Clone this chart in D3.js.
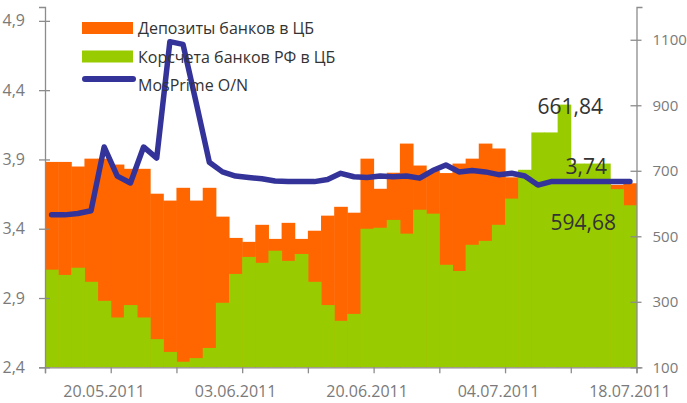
<!DOCTYPE html>
<html>
<head>
<meta charset="utf-8">
<script src="https://cdn.jsdelivr.net/npm/d3@7"></script>
<style>
  body { margin: 0; background: #fff; }
  #chart { width: 687px; height: 403px; }
</style>
</head>
<body>
<div id="chart"></div>
<script>
// trading days 16.05.2011 - 18.07.2011
const dates = [
  "16.05.2011","17.05.2011","18.05.2011","19.05.2011","20.05.2011",
  "23.05.2011","24.05.2011","25.05.2011","26.05.2011","27.05.2011",
  "30.05.2011","31.05.2011","01.06.2011","02.06.2011","03.06.2011",
  "06.06.2011","07.06.2011","08.06.2011","09.06.2011","10.06.2011",
  "14.06.2011","15.06.2011","16.06.2011","17.06.2011","20.06.2011",
  "21.06.2011","22.06.2011","23.06.2011","24.06.2011","27.06.2011",
  "28.06.2011","29.06.2011","30.06.2011","01.07.2011","04.07.2011",
  "05.07.2011","06.07.2011","07.07.2011","08.07.2011","11.07.2011",
  "12.07.2011","13.07.2011","14.07.2011","15.07.2011","18.07.2011"
];
// Депозиты банков в ЦБ, млрд руб (right axis)
const deposits = [
  727, 727, 713, 737, 737, 719, 706, 706, 630, 609,
  648, 609, 648, 560, 495, 483, 535, 492, 541, 492,
  517, 563, 590, 572, 737, 645, 694, 783, 716, 700,
  693, 722, 737, 783, 768, 680, 700, 700, 690, 690,
  680, 680, 670, 657, 661.84
];
// Корсчета банков РФ в ЦБ, млрд руб (right axis)
const corrAccounts = [
  398, 382, 404, 361, 303, 252, 290, 252, 186, 147,
  117, 128, 159, 297, 385, 437, 419, 456, 425, 446,
  361, 290, 242, 263, 523, 526, 550, 508, 581, 569,
  413, 394, 474, 486, 535, 615, 703, 817, 817, 902,
  722, 722, 722, 644, 594.68
];
// MosPrime O/N, % (left axis)
const mosprime = [
  3.50, 3.50, 3.51, 3.53, 3.99, 3.78, 3.73, 3.99, 3.91, 4.75,
  4.73, 4.31, 3.88, 3.81, 3.78, 3.77, 3.76, 3.745, 3.74, 3.74,
  3.74, 3.755, 3.80, 3.775, 3.77, 3.78, 3.775, 3.78, 3.765, 3.82,
  3.86, 3.81, 3.82, 3.81, 3.79, 3.80, 3.78, 3.715, 3.74, 3.74,
  3.74, 3.74, 3.74, 3.74, 3.74
];
const xLabels = ["20.05.2011", "03.06.2011", "20.06.2011", "04.07.2011", "18.07.2011"];
const leftTicks = [2.4, 2.9, 3.4, 3.9, 4.4, 4.9];
const rightTicks = [100, 300, 500, 700, 900, 1100];
const seriesNames = ["Депозиты банков в ЦБ", "Корсчета банков РФ в ЦБ", "MosPrime O/N"];

const colOrange = "#ff6600", colGreen = "#99cc00", colBlue = "#333399";
const axisCol = "#8c8c8c", tickTextCol = "#7a7a7a", textCol = "#333333";
const font = "'Open Sans', 'Noto Sans', sans-serif";

const container = d3.select("#chart");
const width = 687, height = 403;
const svg = container.append("svg").attr("width", width).attr("height", height)
  .style("font-family", font);

const margin = { left: 45, right: 50.5, top: 7, bottom: 35.7 };
const x0 = margin.left, x1 = width - margin.right;
const yTop = margin.top, yBot = height - margin.bottom;

const x = d3.scaleBand().domain(dates).range([x0, x1]).padding(0);
const xIdx = d3.scaleLinear().domain([0, dates.length]).range([x0, x1]);
const yL = d3.scaleLinear().domain([2.4, 5.0]).range([yBot, yTop]);
const yR = d3.scaleLinear().domain([100, 1200]).range([yBot, yTop]);

const comma = (f) => (d) => d3.format(f)(d).replace(".", ",");

// bars: deposits behind, correspondent accounts in front
svg.append("g").selectAll("rect").data(deposits).join("rect")
  .attr("x", (d, i) => x(dates[i]))
  .attr("width", x.bandwidth() + 0.5)
  .attr("y", d => yR(d))
  .attr("height", d => yR(100) - yR(d))
  .attr("fill", colOrange);

svg.append("g").selectAll("rect").data(corrAccounts).join("rect")
  .attr("x", (d, i) => x(dates[i]))
  .attr("width", x.bandwidth() + 0.5)
  .attr("y", d => yR(d))
  .attr("height", d => yR(100) - yR(d))
  .attr("fill", colGreen);

// MosPrime line
const line = d3.line()
  .x((d, i) => x(dates[i]) + x.bandwidth() / 2)
  .y(d => yL(d));
svg.append("path").datum(mosprime)
  .attr("d", line)
  .attr("fill", "none")
  .attr("stroke", colBlue)
  .attr("stroke-width", 5.5)
  .attr("stroke-linejoin", "round")
  .attr("stroke-linecap", "round");

// axes
function styleAxis(g, size) {
  g.select(".domain").attr("stroke", axisCol).attr("stroke-width", 1.3);
  g.selectAll(".tick line").attr("stroke", axisCol).attr("stroke-width", 1.3);
  g.selectAll(".tick text").attr("fill", tickTextCol).style("font-size", (size || 16) + "px").style("font-family", font);
}

const leftAxis = svg.append("g")
  .attr("transform", `translate(${x0},0)`)
  .call(d3.axisLeft(yL).tickValues(leftTicks).tickFormat(comma(".1f")).tickSizeOuter(0).tickSize(6).tickPadding(14));
leftAxis.call(styleAxis);
leftAxis.selectAll(".tick line").attr("x2", 5).attr("x1", -6);

const rightAxis = svg.append("g")
  .attr("transform", `translate(${x1},0)`)
  .call(d3.axisRight(yR).tickValues(rightTicks).tickFormat(d3.format("d")).tickSizeOuter(0).tickSize(6).tickPadding(10));
rightAxis.call(styleAxis, 15);
rightAxis.selectAll(".tick line").attr("x1", -6).attr("x2", 5);

// bottom axis: ticks every 5 trading days, labels on selected days
const bottomTicks = svg.append("g")
  .attr("transform", `translate(0,${yBot})`)
  .call(d3.axisBottom(xIdx).tickValues(d3.range(0, dates.length + 1, 5)).tickFormat("").tickSizeOuter(0).tickSize(6));
bottomTicks.call(styleAxis);

const bottomLabels = svg.append("g")
  .attr("transform", `translate(0,${yBot})`)
  .call(d3.axisBottom(x).tickValues(xLabels).tickSize(0).tickPadding(18));
bottomLabels.select(".domain").remove();
bottomLabels.call(styleAxis);

// legend
const legend = svg.append("g").attr("transform", "translate(82,0)");
legend.append("rect").attr("x", 0).attr("y", 22).attr("width", 51).attr("height", 12).attr("fill", colOrange);
legend.append("rect").attr("x", 0).attr("y", 50.5).attr("width", 51).attr("height", 12).attr("fill", colGreen);
legend.append("line").attr("x1", 3).attr("x2", 51).attr("y1", 79).attr("y2", 79)
  .attr("stroke", colBlue).attr("stroke-width", 6).attr("stroke-linecap", "round");
legend.selectAll("text").data(seriesNames).join("text")
  .attr("x", 56)
  .attr("y", (d, i) => 34 + i * 28.5)
  .attr("fill", textCol)
  .style("font-size", "16px")
  .text(d => d);

// value annotations for the last day
const last = dates.length - 1;
const lastX = x(dates[last]) + x.bandwidth() / 2;
const notes = [
  { text: comma(".2f")(deposits[last]), dx: -27, y: yR(deposits[last]) - 69 },
  { text: comma(".2f")(mosprime[last]), dx: -23, y: yL(mosprime[last]) - 8 },
  { text: comma(".2f")(corrAccounts[last]), dx: -14, y: yR(corrAccounts[last]) + 25 }
];
svg.append("g").selectAll("text").data(notes).join("text")
  .attr("x", d => lastX + d.dx)
  .attr("y", d => d.y)
  .attr("text-anchor", "end")
  .attr("fill", textCol)
  .style("font-size", "21px")
  .text(d => d.text);
</script>
</body>
</html>
